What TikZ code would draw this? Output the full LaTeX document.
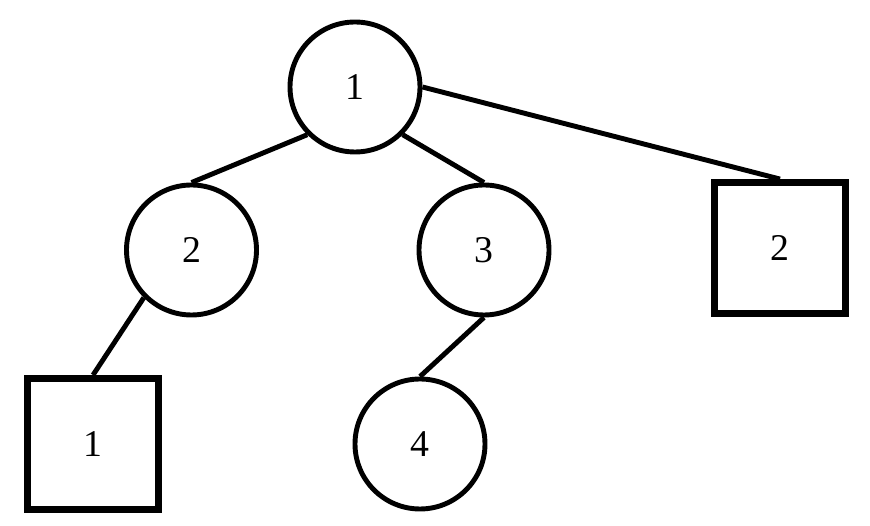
\documentclass[tikz,border=0pt]{standalone}
\usepackage{fontspec}
\setmainfont{Liberation Serif}
\usetikzlibrary{positioning}

\begin{document}
\begin{tikzpicture}[
  on grid, font=\fontsize{21.5pt}{24pt}\selectfont,
  circ/.style={draw,circle,line width=2.8pt,minimum size=2.6cm,inner sep=0pt},
  sq/.style={draw,rectangle,line width=3.9pt,minimum size=2.62cm,inner sep=0pt},
  edge/.style={line width=2.8pt}]
\useasboundingbox (0,0) rectangle (17.4,-10.52);
\node[circ] (r1) at (7.10,-1.74) {1};
\node[circ,below left=3.26cm and 3.27cm of r1] (c2) {2};
\node[circ,below right=3.26cm and 2.58cm of r1] (c3) {3};
\node[sq,below right=3.22cm and 8.50cm of r1] (s2) {2};
\node[sq,below left=3.88cm and 1.97cm of c2] (s1) {1};
\node[circ,below left=3.88cm and 1.28cm of c3] (c4) {4};
\draw[edge] (r1.south west)--(c2.north); \draw[edge] (r1.south east)--(c3.north); \draw[edge] (r1.east)--(s2.north);
\draw[edge] (c2.south west)--(s1.north); \draw[edge] (c3.south)--(c4.north);
\end{tikzpicture}
\end{document}
